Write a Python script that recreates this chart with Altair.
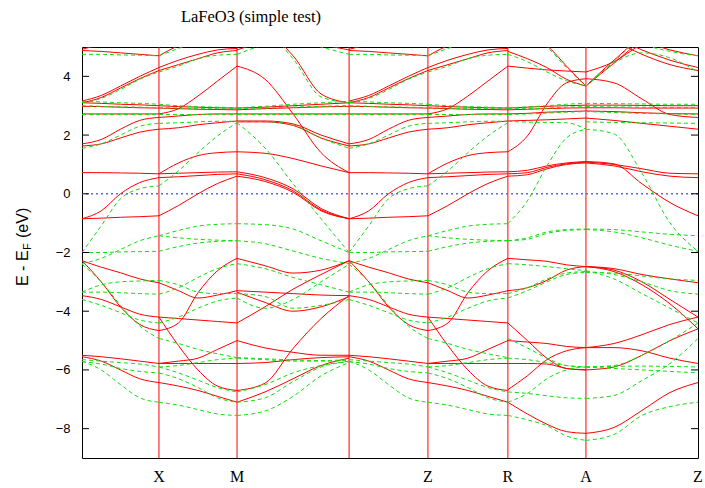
import altair as alt
import pandas as pd

# ---------------- data ----------------
K_POS = [0.0, 0.489, 0.985, 1.697, 2.198, 2.706, 3.202, 3.914]
K_LABELS = ["", "X", "M", "", "Z", "R", "A", "Z"]
SAMPLE_FRAC = [0.0, 0.25, 0.5, 0.75, 1.0]
Y_TICKS = [-8, -6, -4, -2, 0, 2, 4]

# spin up (red) bands, energies at 5 samples along each segment
UP_GX = [
    [4.92, 5.1, 5.3, 5.45, 5.5], [4.88, 4.85, 4.8, 4.75, 4.7],
    [3.16, 3.35, 3.67, 4.0, 4.3], [3.1, 3.28, 3.6, 3.92, 4.2],
    [3.1, 3.08, 3.05, 3.03, 3.0], [2.98, 2.97, 2.95, 2.93, 2.92],
    [2.72, 2.72, 2.72, 2.72, 2.72], [1.7, 1.85, 2.2, 2.5, 2.6],
    [1.63, 1.7, 1.9, 2.1, 2.2], [0.72, 0.72, 0.71, 0.7, 0.68],
    [-0.85, -0.83, -0.8, -0.78, -0.75], [-0.85, -0.58, 0.0, 0.38, 0.55],
    [-2.28, -2.5, -2.69, -2.9, -3.03], [-2.28, -3.0, -3.85, -4.45, -4.66],
    [-3.47, -3.6, -3.85, -4.1, -4.2], [-5.5, -5.55, -5.62, -5.7, -5.78],
    [-5.55, -5.7, -6.0, -6.3, -6.43],
]
UP_XM = [
    [4.7, 5.05, 5.3, 5.45, 5.5], [4.3, 4.55, 4.75, 4.9, 4.95],
    [4.2, 4.4, 4.6, 4.8, 4.88], [2.72, 2.9, 3.33, 3.84, 4.35],
    [3.0, 2.97, 2.95, 2.93, 2.92], [2.92, 2.9, 2.88, 2.87, 2.86],
    [2.6, 2.65, 2.7, 2.72, 2.72], [2.2, 2.25, 2.35, 2.42, 2.48],
    [0.68, 1.05, 1.3, 1.4, 1.43], [0.68, 0.7, 0.72, 0.74, 0.75],
    [0.55, 0.58, 0.62, 0.66, 0.68], [-0.75, -0.4, 0.0, 0.35, 0.6],
    [-3.03, -3.3, -3.55, -3.45, -3.3], [-4.66, -4.4, -3.37, -2.62, -2.2],
    [-4.2, -4.25, -4.3, -4.35, -4.4], [-4.2, -5.17, -6.0, -6.55, -6.7],
    [-5.78, -5.7, -5.6, -5.3, -5.0], [-5.78, -5.78, -5.78, -5.78, -5.78],
    [-6.43, -6.55, -6.7, -6.9, -7.1],
]
UP_MG = [
    [4.9, 5.2, 5.4, 5.5, 5.5], [5.5, 5.5, 5.4, 5.1, 4.9],
    [5.6, 5.5, 4.7, 3.4, 3.1], [4.35, 3.9, 2.72, 1.4, 0.72],
    [2.92, 2.95, 3.0, 3.05, 3.1], [2.86, 2.9, 2.93, 2.96, 2.98],
    [2.72, 2.72, 2.72, 2.72, 2.72], [2.48, 2.48, 2.38, 2.0, 1.7],
    [2.45, 2.45, 2.33, 1.9, 1.63], [1.43, 1.38, 1.2, 0.95, 0.72],
    [0.75, 0.55, 0.17, -0.5, -0.85], [0.68, 0.48, 0.1, -0.55, -0.85],
    [0.6, 0.42, 0.05, -0.58, -0.85], [-2.2, -2.45, -2.7, -2.6, -2.28],
    [-4.4, -3.85, -3.25, -2.75, -2.28], [-3.3, -3.35, -3.4, -3.45, -3.47],
    [-3.35, -3.7, -4.0, -3.85, -3.5], [-5.0, -5.25, -5.4, -5.5, -5.5],
    [-5.78, -5.75, -5.65, -5.58, -5.55], [-6.7, -6.45, -5.27, -4.25, -3.47],
    [-7.1, -6.75, -6.3, -5.85, -5.6],
]
UP_RA = [
    [4.85, 4.6, 4.3, 3.9, 3.67], [5.8, 5.4, 5.05, 4.35, 3.67],
    [4.35, 4.28, 4.22, 4.18, 4.15], [2.92, 2.95, 2.98, 3.0, 3.02],
    [2.86, 2.88, 2.9, 2.92, 2.93], [2.72, 2.74, 2.78, 2.8, 2.82],
    [2.48, 2.5, 2.52, 2.55, 2.58], [1.43, 1.97, 3.06, 3.78, 3.92],
    [0.75, 0.8, 0.95, 1.05, 1.1], [0.68, 0.72, 0.9, 1.02, 1.08],
    [0.6, 0.65, 0.85, 1.0, 1.05], [-2.2, -2.25, -2.3, -2.42, -2.48],
    [-3.3, -3.2, -2.95, -2.6, -2.48], [-4.4, -5.0, -5.6, -5.95, -6.0],
    [-5.0, -5.05, -5.1, -5.2, -5.24], [-5.78, -5.78, -5.8, -5.95, -6.0],
    [-6.67, -6.2, -5.65, -5.35, -5.24], [-7.1, -7.5, -7.85, -8.1, -8.16],
]
UP_AZ = [
    [3.67, 4.55, 5.3, 5.5, 5.5], [3.67, 4.45, 5.2, 5.5, 5.5],
    [5.5, 5.5, 5.2, 4.9, 4.7], [5.5, 5.3, 4.9, 4.55, 4.3],
    [4.15, 4.5, 5.1, 5.5, 5.5], [5.5, 5.2, 4.75, 4.4, 4.2],
    [3.92, 3.78, 3.23, 2.7, 2.6], [2.58, 2.5, 2.4, 2.3, 2.2],
    [3.02, 3.02, 3.01, 3.0, 3.0], [2.93, 2.93, 2.92, 2.92, 2.92],
    [2.82, 2.8, 2.76, 2.73, 2.72], [1.1, 1.02, 0.34, -0.3, -0.75],
    [1.08, 1.0, 0.85, 0.7, 0.68], [1.05, 0.95, 0.75, 0.6, 0.55],
    [-2.48, -2.6, -3.0, -3.6, -4.2], [-2.48, -2.65, -3.1, -3.75, -4.6],
    [-2.48, -2.55, -2.75, -2.9, -3.03], [-8.16, -7.96, -7.38, -6.77, -6.43],
    [-5.24, -5.24, -5.35, -5.6, -5.78], [-6.0, -5.9, -5.5, -5.0, -4.6],
    [-5.24, -5.1, -4.8, -4.45, -4.2],
]

# spin down (green) bands
DN_GX = [
    [4.75, 4.75, 4.73, 4.72, 4.7], [3.1, 3.25, 3.55, 3.9, 4.15],
    [3.15, 3.13, 3.1, 3.08, 3.05], [3.0, 2.98, 2.96, 2.95, 2.93],
    [2.7, 2.7, 2.7, 2.7, 2.7], [1.55, 1.7, 2.0, 2.3, 2.4],
    [-2.0, -1.09, -0.17, 0.17, 0.27], [-2.0, -2.0, -1.98, -1.97, -1.96],
    [-2.38, -2.2, -1.9, -1.6, -1.43], [-3.35, -3.1, -3.0, -2.97, -2.95],
    [-3.35, -3.35, -3.37, -3.4, -3.42], [-2.4, -3.0, -3.8, -4.5, -4.93],
    [-3.6, -3.8, -4.05, -4.3, -4.4], [-5.65, -5.7, -5.75, -5.8, -5.9],
    [-5.7, -6.0, -6.5, -6.95, -7.1], [-5.72, -5.8, -5.95, -6.05, -6.1],
]
DN_XM = [
    [4.7, 4.95, 5.2, 5.35, 5.4], [4.15, 4.35, 4.6, 4.72, 4.75],
    [3.05, 3.0, 2.97, 2.95, 2.93], [2.93, 2.92, 2.9, 2.9, 2.9],
    [2.7, 2.7, 2.7, 2.7, 2.7], [2.4, 2.42, 2.45, 2.47, 2.47],
    [0.27, 0.78, 1.4, 1.97, 2.42], [-1.43, -1.25, -1.1, -1.04, -1.02],
    [-1.43, -1.5, -1.55, -1.58, -1.6], [-1.96, -1.8, -1.68, -1.62, -1.6],
    [-2.95, -3.1, -3.35, -3.4, -3.4], [-3.42, -3.2, -2.85, -2.55, -2.38],
    [-4.4, -4.2, -3.9, -3.65, -3.55], [-4.93, -5.1, -5.3, -5.45, -5.58],
    [-5.9, -5.85, -5.75, -5.65, -5.6], [-6.1, -6.3, -6.6, -6.95, -7.1],
    [-7.1, -7.2, -7.35, -7.5, -7.55], [-5.9, -6.1, -6.35, -6.6, -6.75],
]
DN_MG = [
    [4.75, 5.1, 5.4, 5.5, 5.5], [5.5, 5.5, 5.3, 5.0, 4.75],
    [5.6, 5.5, 4.6, 3.3, 3.1], [2.93, 2.98, 3.05, 3.1, 3.15],
    [2.9, 2.92, 2.95, 2.98, 3.0], [2.7, 2.7, 2.7, 2.7, 2.7],
    [2.47, 2.46, 2.35, 1.9, 1.55], [2.42, 1.56, 0.34, -0.85, -2.0],
    [-1.02, -1.05, -1.2, -1.6, -2.0], [-1.6, -1.7, -1.95, -2.2, -2.38],
    [-2.38, -2.55, -2.85, -3.1, -3.35], [-3.4, -3.5, -3.9, -3.8, -3.6],
    [-3.55, -3.9, -3.6, -3.0, -2.4], [-5.58, -5.62, -5.66, -5.68, -5.65],
    [-5.6, -5.65, -5.7, -5.7, -5.68], [-6.75, -6.5, -6.1, -5.85, -5.7],
    [-7.1, -6.95, -6.4, -5.9, -5.72], [-7.55, -7.4, -6.9, -6.2, -5.75],
]
DN_RA = [
    [4.75, 4.5, 4.15, 3.85, 3.67], [5.8, 5.4, 5.0, 4.3, 3.67],
    [2.93, 2.96, 3.0, 3.05, 3.08], [2.9, 2.9, 2.92, 2.95, 2.97],
    [2.7, 2.72, 2.75, 2.78, 2.8], [2.47, 2.44, 2.43, 2.42, 2.2],
    [-1.02, -0.24, 0.95, 1.9, 2.2], [-1.6, -1.5, -1.3, -1.22, -1.2],
    [-1.6, -1.55, -1.35, -1.25, -1.22], [-2.38, -2.42, -2.48, -2.55, -2.62],
    [-3.4, -3.2, -2.9, -2.7, -2.65], [-3.55, -3.3, -3.0, -2.75, -2.68],
    [-5.6, -5.65, -5.75, -5.85, -5.9], [-6.75, -6.8, -6.88, -6.95, -6.97],
    [-7.55, -7.7, -7.9, -8.25, -8.4], [-4.93, -5.25, -5.6, -5.85, -5.9],
    [-7.1, -6.8, -6.3, -6.0, -5.9],
]
DN_AZ = [
    [3.67, 4.5, 5.3, 5.5, 5.5], [5.5, 5.5, 5.1, 4.85, 4.7],
    [3.67, 4.45, 4.8, 4.63, 4.15], [3.08, 3.07, 3.06, 3.05, 3.05],
    [2.97, 2.96, 2.95, 2.94, 2.93], [2.8, 2.77, 2.74, 2.72, 2.7],
    [2.2, 2.04, 0.7, -0.99, -1.96], [2.45, 2.43, 2.42, 2.41, 2.4],
    [-1.2, -1.22, -1.3, -1.38, -1.43], [-1.22, -1.3, -1.5, -1.75, -1.96],
    [-2.62, -2.9, -3.4, -3.9, -4.4], [-2.65, -2.75, -3.0, -3.3, -3.42],
    [-2.68, -2.7, -2.8, -2.9, -2.95], [-6.97, -6.87, -6.36, -5.78, -4.93],
    [-5.9, -5.85, -5.5, -5.0, -4.4], [-5.9, -5.88, -5.87, -5.88, -5.9],
    [-8.4, -8.2, -7.55, -7.25, -7.1], [-5.9, -5.95, -6.0, -6.05, -6.1],
]

# path segments: (name, start index in K_POS, up bands, down bands)
SEGMENTS = [
    ("GX", 0, UP_GX, DN_GX), ("XM", 1, UP_XM, DN_XM), ("MG", 2, UP_MG, DN_MG),
    ("GZ", 3, UP_GX, DN_GX), ("ZR", 4, UP_XM, DN_XM),
    ("RA", 5, UP_RA, DN_RA), ("AZ", 6, UP_AZ, DN_AZ),
]

rows = []
for name, i0, up, dn in SEGMENTS:
    k0, k1 = K_POS[i0], K_POS[i0 + 1]
    for spin, lines in (("up", up), ("down", dn)):
        for j, energies in enumerate(lines):
            for n, (f, e) in enumerate(zip(SAMPLE_FRAC, energies)):
                rows.append({"k": k0 + f * (k1 - k0), "E": e, "spin": spin,
                             "line": f"{name}-{spin}-{j}", "n": n})
bands = pd.DataFrame(rows)
kdf = pd.DataFrame({"k": K_POS, "label": K_LABELS})
ytdf = pd.DataFrame({"E": Y_TICKS})

# ---------------- chart ----------------
W, H = 616, 411
xs = alt.Scale(domain=[K_POS[0], K_POS[-1]], nice=False, zero=False)
ys = alt.Scale(domain=[-9, 5], nice=False, zero=False)

yaxis = alt.Axis(values=Y_TICKS, tickSize=0, domain=False, grid=False,
                 labelFont="Liberation Sans", labelFontSize=13,
                 labelColor="black", labelPadding=12, title=None)


def Y():
    return alt.Y("E:Q", scale=ys, axis=yaxis)


def X():
    return alt.X("k:Q", scale=xs, axis=None)


vlines = alt.Chart(kdf.iloc[1:-1]).mark_rule(color="#ff0000", strokeWidth=1).encode(
    x=X())

zero = alt.Chart(ytdf[ytdf.E == 0]).mark_rule(
    color="#6464f0", strokeWidth=1.5, strokeDash=[2, 3]).encode(y=Y())

red = alt.Chart(bands[bands.spin == "up"]).mark_line(
    color="#ff0000", strokeWidth=1, interpolate="monotone", clip=True).encode(
    x=X(), y=Y(), detail="line:N", order="n:Q")

green = alt.Chart(bands[bands.spin == "down"]).mark_line(
    color="#11dd11", strokeWidth=1, strokeDash=[4, 3], interpolate="monotone",
    clip=True).encode(x=X(), y=Y(), detail="line:N", order="n:Q")

ticks_l = alt.Chart(ytdf).mark_rule(color="black", strokeWidth=1).encode(
    y=Y(), x=alt.value(0), x2=alt.value(7))
ticks_r = alt.Chart(ytdf).mark_rule(color="black", strokeWidth=1).encode(
    y=Y(), x=alt.value(W - 7), x2=alt.value(W))

xlabels = alt.Chart(kdf).mark_text(
    font="Liberation Serif", fontSize=16, color="black", baseline="middle").encode(
    x=X(), y=alt.value(H + 19), text="label:N")

title = alt.Chart(pd.DataFrame({"t": ["LaFeO3 (simple test)"]})).mark_text(
    font="Liberation Serif", fontSize=16.5, color="black", baseline="middle",
    align="center").encode(x=alt.value(169), y=alt.value(-30), text="t:N")

# rotated axis title "E - E_F (eV)" with a subscript F
yt1 = alt.Chart(pd.DataFrame({"t": ["E - E"]})).mark_text(
    font="Liberation Sans", fontSize=16, color="black", angle=270,
    align="left", baseline="middle").encode(
    x=alt.value(-59), y=alt.value(239), text="t:N")
yt2 = alt.Chart(pd.DataFrame({"t": ["F"]})).mark_text(
    font="Liberation Sans", fontSize=11, color="black", angle=270,
    align="left", baseline="middle").encode(
    x=alt.value(-54), y=alt.value(203), text="t:N")
yt3 = alt.Chart(pd.DataFrame({"t": ["(eV)"]})).mark_text(
    font="Liberation Sans", fontSize=16, color="black", angle=270,
    align="left", baseline="middle").encode(
    x=alt.value(-59), y=alt.value(191), text="t:N")

chart = alt.layer(
    vlines, zero, red, green, ticks_l, ticks_r, xlabels, title, yt1, yt2, yt3
).properties(
    width=W, height=H,
    autosize=alt.AutoSizeParams(type="none"),
    padding={"left": 82, "top": 47, "right": 7, "bottom": 30},
    background="white",
).configure_view(stroke="black", strokeWidth=1)

chart.save("out.html", embed_options={"renderer": "svg", "actions": False})
